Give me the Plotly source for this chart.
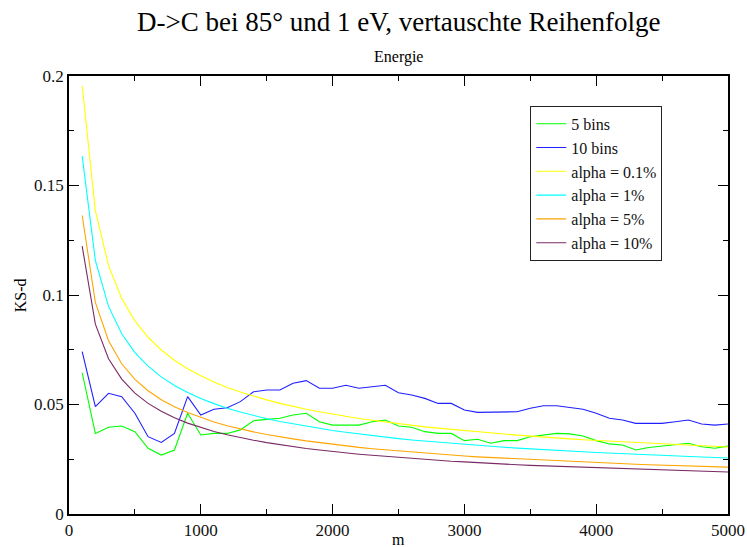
import plotly.graph_objects as go

m = [100, 200, 300, 400, 500, 600, 700, 800, 900, 1000,
     1100, 1200, 1300, 1400, 1500, 1600, 1700, 1800, 1900, 2000,
     2100, 2200, 2300, 2400, 2500, 2600, 2700, 2800, 2900, 3000,
     3100, 3200, 3300, 3400, 3500, 3600, 3700, 3800, 3900, 4000,
     4100, 4200, 4300, 4400, 4500, 4600, 4700, 4800, 4900, 5000]

bins5 = [0.0645, 0.0368, 0.0396, 0.0402, 0.0376, 0.0300, 0.0269, 0.0292, 0.0460, 0.0361,
         0.0368, 0.0368, 0.0384, 0.0426, 0.0432, 0.0437, 0.0452, 0.0460, 0.0421, 0.0406,
         0.0406, 0.0406, 0.0421, 0.0429, 0.0402, 0.0396, 0.0376, 0.0368, 0.0368, 0.0335,
         0.0341, 0.0323, 0.0335, 0.0335, 0.0353, 0.0361, 0.0368, 0.0366, 0.0356, 0.0335,
         0.0320, 0.0315, 0.0292, 0.0304, 0.0310, 0.0315, 0.0323, 0.0307, 0.0300, 0.0310]

bins10 = [0.0741, 0.0490, 0.0551, 0.0536, 0.0460, 0.0353, 0.0327, 0.0368, 0.0536, 0.0452,
          0.0478, 0.0485, 0.0513, 0.0558, 0.0566, 0.0566, 0.0597, 0.0609, 0.0574, 0.0574,
          0.0588, 0.0574, 0.0581, 0.0588, 0.0554, 0.0543, 0.0528, 0.0505, 0.0505, 0.0475,
          0.0464, 0.0464, 0.0467, 0.0467, 0.0483, 0.0494, 0.0494, 0.0485, 0.0478, 0.0460,
          0.0437, 0.0429, 0.0414, 0.0414, 0.0414, 0.0421, 0.0429, 0.0411, 0.0406, 0.0411]

alpha01 = [0.1955, 0.1385, 0.1134, 0.0984, 0.0882, 0.0807, 0.0749, 0.0702, 0.0663, 0.0631,
           0.0603, 0.0578, 0.0557, 0.0538, 0.0521, 0.0505, 0.0491, 0.0478, 0.0467, 0.0456,
           0.0446, 0.0436, 0.0428, 0.0420, 0.0412, 0.0405, 0.0398, 0.0392, 0.0386, 0.0380,
           0.0375, 0.0369, 0.0365, 0.0360, 0.0355, 0.0351, 0.0347, 0.0343, 0.0339, 0.0336,
           0.0332, 0.0329, 0.0326, 0.0323, 0.0320, 0.0317, 0.0314, 0.0311, 0.0309, 0.0306]

alpha1 = [0.1634, 0.1158, 0.0948, 0.0823, 0.0737, 0.0675, 0.0626, 0.0587, 0.0555, 0.0527,
          0.0504, 0.0483, 0.0466, 0.0450, 0.0435, 0.0422, 0.0411, 0.0400, 0.0390, 0.0381,
          0.0373, 0.0365, 0.0358, 0.0351, 0.0344, 0.0338, 0.0333, 0.0327, 0.0322, 0.0318,
          0.0313, 0.0309, 0.0305, 0.0301, 0.0297, 0.0294, 0.0290, 0.0287, 0.0284, 0.0281,
          0.0278, 0.0275, 0.0272, 0.0270, 0.0267, 0.0265, 0.0262, 0.0260, 0.0258, 0.0256]

alpha5 = [0.1363, 0.0966, 0.0791, 0.0686, 0.0615, 0.0563, 0.0522, 0.0490, 0.0463, 0.0440,
          0.0420, 0.0403, 0.0388, 0.0375, 0.0363, 0.0352, 0.0343, 0.0334, 0.0326, 0.0318,
          0.0311, 0.0304, 0.0298, 0.0293, 0.0287, 0.0282, 0.0278, 0.0273, 0.0269, 0.0265,
          0.0261, 0.0258, 0.0254, 0.0251, 0.0248, 0.0245, 0.0242, 0.0239, 0.0237, 0.0234,
          0.0232, 0.0229, 0.0227, 0.0225, 0.0223, 0.0221, 0.0219, 0.0217, 0.0215, 0.0214]

alpha10 = [0.1223, 0.0867, 0.0709, 0.0616, 0.0552, 0.0505, 0.0469, 0.0439, 0.0415, 0.0395,
           0.0377, 0.0362, 0.0348, 0.0337, 0.0326, 0.0316, 0.0307, 0.0299, 0.0292, 0.0285,
           0.0279, 0.0273, 0.0268, 0.0263, 0.0258, 0.0253, 0.0249, 0.0245, 0.0241, 0.0238,
           0.0234, 0.0231, 0.0228, 0.0225, 0.0222, 0.0220, 0.0217, 0.0215, 0.0212, 0.0210,
           0.0208, 0.0206, 0.0204, 0.0202, 0.0200, 0.0198, 0.0196, 0.0195, 0.0193, 0.0192]

series = [
    ("5 bins", bins5, "#00ff00"),
    ("10 bins", bins10, "#2020ff"),
    ("alpha = 0.1%", alpha01, "#ffff00"),
    ("alpha = 1%", alpha1, "#00ffff"),
    ("alpha = 5%", alpha5, "#ffa500"),
    ("alpha = 10%", alpha10, "#7a2a66"),
]

FONT = "Liberation Serif, Times New Roman, serif"

fig = go.Figure()
for name, vals, col in series:
    fig.add_trace(go.Scatter(x=m, y=vals, mode="lines", name=name,
                             line=dict(color=col, width=1.1)))

axis_common = dict(
    showgrid=False, zeroline=False, showline=True, linecolor="black", linewidth=1.5,
    mirror="allticks", ticks="inside", ticklen=10, tickwidth=1, tickcolor="black",
    tickfont=dict(family=FONT, size=17, color="#111111"), automargin=False,
)

fig.update_xaxes(range=[0, 5000], dtick=1000, tick0=0,
                 minor=dict(dtick=500, ticks="inside", ticklen=5, tickcolor="black"),
                 **axis_common)
fig.update_yaxes(range=[0, 0.2], dtick=0.05, tick0=0,
                 minor=dict(dtick=0.025, ticks="inside", ticklen=5, tickcolor="black"),
                 **axis_common)

fig.update_layout(
    width=747, height=547,
    margin=dict(l=69, r=19, t=76, b=33),
    paper_bgcolor="white", plot_bgcolor="white",
    showlegend=True,
    legend=dict(x=0.700, y=0.932, xanchor="left", yanchor="top",
                bgcolor="white", bordercolor="#222222", borderwidth=1,
                font=dict(family=FONT, size=16, color="#111111"),
                itemwidth=30, tracegroupgap=0),
    annotations=[
        dict(text="D->C bei 85° und 1 eV, vertauschte Reihenfolge", xref="paper", yref="paper",
             x=0.5, y=1.123, xanchor="center", yanchor="middle", showarrow=False,
             font=dict(family=FONT, size=27, color="black")),
        dict(text="Energie", xref="paper", yref="paper",
             x=0.5, y=1.043, xanchor="center", yanchor="middle", showarrow=False,
             font=dict(family=FONT, size=16, color="black")),
        dict(text="m", xref="paper", yref="paper",
             x=0.5, y=-0.058, xanchor="center", yanchor="middle", showarrow=False,
             font=dict(family=FONT, size=16, color="black")),
        dict(text="KS-d", xref="paper", yref="paper", textangle=-90,
             x=-0.074, y=0.5, xanchor="center", yanchor="middle", showarrow=False,
             font=dict(family=FONT, size=16, color="black")),
    ],
)

fig.write_html("out.html")
